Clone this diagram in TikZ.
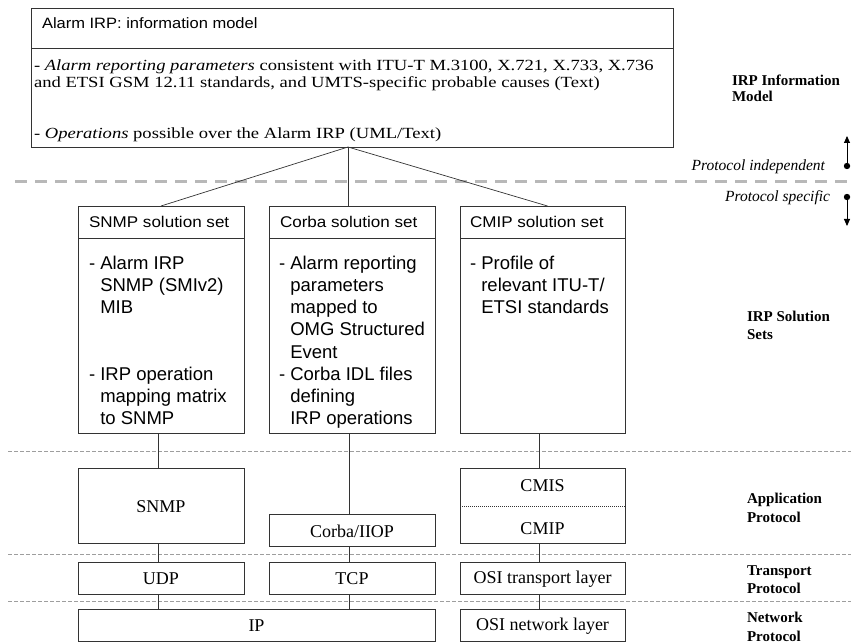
\documentclass[tikz,border=0pt]{standalone}
\usepackage{fontspec}
\setmainfont{Liberation Serif}
\setsansfont{Liberation Sans}
\newfontfamily\arialw[FakeStretch=1.1]{Liberation Sans}
\newfontfamily\timesw[FakeStretch=1.2]{Liberation Serif}
\usetikzlibrary{arrows.meta}
\definecolor{boxc}{gray}{0.2}
\definecolor{bigdashc}{gray}{0.72}
\definecolor{layerc}{gray}{0.62}
\begin{document}
\begin{tikzpicture}[x=1pt,y=-1pt,
  every node/.style={inner sep=0pt, outer sep=0pt},
  box/.style={draw=boxc, line width=0.9pt, anchor=north west},
  link/.style={draw=boxc, line width=0.7pt},
  layerline/.style={draw=layerc, line width=0.6pt, dash pattern=on 4pt off 2pt},
  bigdash/.style={draw=bigdashc, line width=3pt, dash pattern=on 12pt off 8pt},
  hdr/.style={anchor=base west, font=\arialw\fontsize{15.5}{18}\selectfont},
  toptxt/.style={anchor=base west, font=\timesw\fontsize{15.5}{17}\selectfont},
  body/.style={anchor=base west},
  proto/.style={font=\fontsize{18}{20}\selectfont},
  side/.style={anchor=base west, font=\bfseries\fontsize{15}{17}\selectfont},
  sideit/.style={anchor=base east, font=\itshape\fontsize{15.5}{17}\selectfont},
  arr/.style={draw=black, line width=0.9pt, -{Triangle[length=7pt,width=6pt]}}
]
\useasboundingbox (0,0) rectangle (851,644);

% layer separators
\draw[bigdash] (15,182) -- (851,182);
\draw[layerline] (8,451) -- (851,451);
\draw[layerline] (8,554) -- (851,554);
\draw[layerline] (8,601) -- (851,601);

% information model box
\node[box, minimum width=642, minimum height=139] (im) at (31,8) {};
\draw[boxc, line width=0.9pt] (31,48) -- (673,48);
\node[anchor=base west, font=\arialw\fontsize{15}{18}\selectfont] (imh) at (42,29) {Alarm IRP: information model};
\node[toptxt] (iml1) at (34,71) {- \textit{Alarm reporting parameters} consistent with ITU-T M.3100, X.721, X.733, X.736};
\node[toptxt] (iml2) at (34,88) {and ETSI GSM 12.11 standards, and UMTS-specific probable causes (Text)};
\node[toptxt] (iml3) at (34,139) {- \textit{Operations} possible over the Alarm IRP (UML/Text)};

% solution set boxes
\node[box, minimum width=166, minimum height=227] (sol1) at (78,206) {};
\node[box, minimum width=166, minimum height=227] (sol2) at (269,206) {};
\node[box, minimum width=165, minimum height=227] (sol3) at (460,206) {};
\draw[boxc, line width=0.9pt] (78,238) -- (244,238);
\draw[boxc, line width=0.9pt] (269,238) -- (435,238);
\draw[boxc, line width=0.9pt] (460,238) -- (625,238);
\node[hdr] (sol1h) at (89,227.5) {SNMP solution set};
\node[hdr] (sol2h) at (280,227.5) {Corba solution set};
\node[hdr] (sol3h) at (470,227.5) {CMIP solution set};

\node[body] (sol1b) at (89,269.5) {\parbox[t]{160pt}{\sffamily\fontsize{18.5}{22.14}\selectfont
- Alarm IRP\\\phantom{- }SNMP (SMIv2)\\\phantom{- }MIB\\[44.28pt]- IRP operation\\\phantom{- }mapping matrix\\\phantom{- }to SNMP}};
\node[body] (sol2b) at (279,269.5) {\parbox[t]{160pt}{\sffamily\fontsize{18.5}{22.14}\selectfont
- Alarm reporting\\\phantom{- }parameters\\\phantom{- }mapped to\\\phantom{- }OMG Structured\\\phantom{- }Event\\- Corba IDL files\\\phantom{- }defining\\\phantom{- }IRP operations}};
\node[body] (sol3b) at (470,269.5) {\parbox[t]{160pt}{\sffamily\fontsize{18.5}{22.14}\selectfont
- Profile of\\\phantom{- }relevant ITU-T/\\\phantom{- }ETSI standards}};

% protocol boxes
\node[box, proto, minimum width=166, minimum height=75] (snmp) at (78,468) {};
\node[proto] (snmpt) at (161,507) {SNMP};
\node[box, proto, minimum width=166, minimum height=32] (iiop) at (269,514) {};
\node[proto] (iiopt) at (352,531) {Corba/IIOP};
\node[box, minimum width=165, minimum height=75] (cmis) at (460,468) {};
\draw[boxc, line width=0.8pt, dash pattern=on 1pt off 1pt] (460,506) -- (625,506);
\node[proto] (cmist) at (542.5,486) {CMIS};
\node[proto] (cmipt) at (542.5,529) {CMIP};
\node[box, minimum width=166, minimum height=32] (udp) at (78,562) {};
\node[proto] (udpt) at (161,579) {UDP};
\node[box, minimum width=166, minimum height=32] (tcp) at (269,562) {};
\node[proto] (tcpt) at (352,579) {TCP};
\node[box, minimum width=165, minimum height=32] (osit) at (460,562) {};
\node[proto] (osittx) at (542.5,579) {OSI transport layer};
\node[box, minimum width=357, minimum height=32] (ip) at (78,609) {};
\node[proto] (ipt) at (256.5,626) {IP};
\node[box, minimum width=165, minimum height=32] (osin) at (460,609) {};
\node[proto] (osintx) at (542.5,626) {OSI network layer};

% connectors
\coordinate (apex) at (348,147);
\draw[link] (apex) -- (sol1.north);
\draw[link] (apex) -- ([xshift=-4pt]sol2.north);
\draw[link] (apex) -- ([xshift=5pt]sol3.north);
\draw[link] ([xshift=-3pt]sol1.south) -- ([xshift=-3pt]snmp.north);
\draw[link] ([xshift=-3pt]snmp.south) -- ([xshift=-3pt]udp.north);
\draw[link] ([xshift=-3pt]udp.south) -- ([xshift=-3pt]udp.south |- ip.north);
\draw[link] ([xshift=-3pt]sol2.south) -- ([xshift=-3pt]iiop.north);
\draw[link] ([xshift=-3pt]iiop.south) -- ([xshift=-3pt]tcp.north);
\draw[link] ([xshift=-3pt]tcp.south) -- ([xshift=-3pt]tcp.south |- ip.north);
\draw[link] ([xshift=-3pt]sol3.south) -- ([xshift=-3pt]cmis.north);
\draw[link] ([xshift=-3pt]cmis.south) -- ([xshift=-3pt]osit.north);
\draw[link] ([xshift=-3pt]osit.south) -- ([xshift=-3pt]osin.north);

% right-hand labels
\node[side] (lim1) at (732,86) {IRP Information};
\node[side] (lim2) at (732,102) {Model};
\node[side] (lss1) at (747,321) {IRP Solution};
\node[side] (lss2) at (747,339) {Sets};
\node[side] (lap1) at (747,503) {Application};
\node[side] (lap2) at (747,522) {Protocol};
\node[side] (ltp1) at (747,575) {Transport};
\node[side] (ltp2) at (747,593) {Protocol};
\node[side] (lnp1) at (747,622) {Network};
\node[side] (lnp2) at (747,641) {Protocol};

\node[sideit] (pind) at (825,171) {Protocol independent};
\node[sideit] (pspec) at (830,202) {Protocol specific};
\coordinate (dotI) at (847,166);
\coordinate (dotS) at (847,197);
\coordinate (tipI) at (847,136);
\coordinate (tipS) at (847,226);
\fill[black] (dotI) circle (3.2);
\fill[black] (dotS) circle (3.2);
\draw[arr] (dotI) -- (tipI);
\draw[arr] (dotS) -- (tipS);
\end{tikzpicture}
\end{document}
